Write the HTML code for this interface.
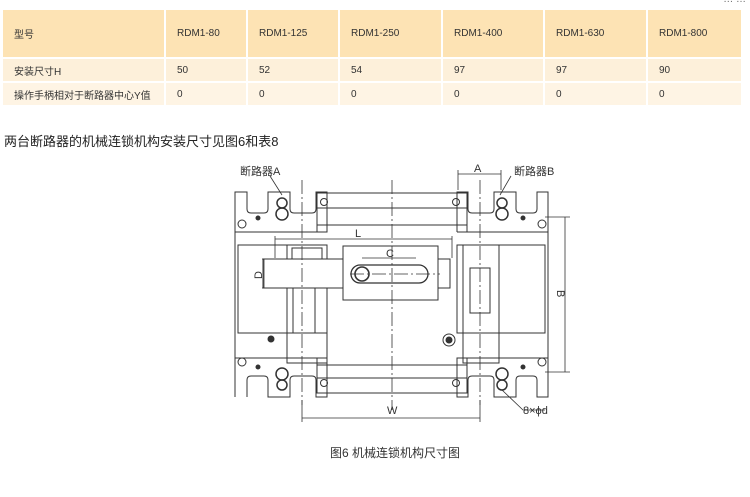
<!DOCTYPE html>
<html><head><meta charset="utf-8"><style>
html,body{margin:0;padding:0;background:#fff;width:750px;height:497px;overflow:hidden;font-family:"Liberation Sans","Noto Sans CJK SC",sans-serif;}
table{position:absolute;left:3px;top:10px;border-collapse:collapse;width:740px;font-size:10px;color:#333;}
td{border-right:2px solid #fff;padding:0 0 0 11px;}
tr.h td{background:#fde3b4;height:47px;}
tr.r2 td{background:#fdf0da;height:22px;border-top:2px solid #fff;}
tr.r3 td{background:#fef4e4;height:22px;border-top:2px solid #fff;}
.title{position:absolute;left:4px;top:131px;font-size:13px;color:#222;}
.cap{position:absolute;left:330px;top:444px;font-size:12px;color:#333;}
</style></head><body>
<div style="position:absolute;right:4px;top:-6px;font-size:10px;color:#666">… …</div>
<table>
<tr class="h"><td style="width:150px">型号</td><td style="width:69px">RDM1-80</td><td style="width:79px">RDM1-125</td><td style="width:90px">RDM1-250</td><td style="width:89px">RDM1-400</td><td style="width:90px">RDM1-630</td><td>RDM1-800</td></tr>
<tr class="r2"><td>安装尺寸H</td><td>50</td><td>52</td><td>54</td><td>97</td><td>97</td><td>90</td></tr>
<tr class="r3"><td>操作手柄相对于断路器中心Y值</td><td>0</td><td>0</td><td>0</td><td>0</td><td>0</td><td>0</td></tr>
</table>
<div class="title">两台断路器的机械连锁机构安装尺寸见图6和表8</div>
<svg width="750" height="497" style="position:absolute;left:0;top:0" fill="none" stroke="#333" stroke-width="1">
<g>
<path d="M235,397 V192 H247 V209 Q247,213 251,213 H264 Q268,213 268,209 V192 H290 V209 Q290,213 294,213 H312 Q316,213 316,209 V192 H327 V232 H235"/>
<path d="M235,192 V397 M235,358 H327 M327,358 V397 H316 V380 Q316,376 312,376 H294 Q290,376 290,380 V397 H268 V380 Q268,376 264,376 H251 Q247,376 247,380 V397"/>
<rect x="238" y="245" width="89" height="88"/>
<rect x="287" y="245" width="40" height="118"/>
<rect x="292" y="248" width="30" height="12"/>
<rect x="293" y="288" width="22" height="45"/>
<circle cx="282" cy="203" r="5" stroke-width="1.5"/><circle cx="282" cy="214" r="6" stroke-width="1.5"/>
<circle cx="282" cy="374" r="6" stroke-width="1.5"/><circle cx="282" cy="385" r="5" stroke-width="1.5"/>
<circle cx="242" cy="224" r="4"/><circle cx="242" cy="362" r="4"/>
<circle cx="271" cy="339" r="3" fill="#333"/>
<circle cx="258" cy="218" r="2" fill="#333"/><circle cx="258" cy="367" r="2" fill="#333"/>
</g>
<g>
<path d="M457,232 V192 H468 V209 Q468,213 472,213 H490 Q494,213 494,209 V192 H516 V209 Q516,213 520,213 H533 Q537,213 537,209 V192 H548 V397 H537 V380 Q537,376 533,376 H520 Q516,376 516,380 V397 H494 V380 Q494,376 490,376 H472 Q468,376 468,380 V397 H457 V358 H548 M457,232 H548"/>
<rect x="457" y="245" width="88" height="88"/>
<rect x="463" y="245" width="36" height="118"/>
<rect x="470" y="268" width="20" height="45"/>
<circle cx="502" cy="203" r="5" stroke-width="1.5"/><circle cx="502" cy="214" r="6" stroke-width="1.5"/>
<circle cx="502" cy="374" r="6" stroke-width="1.5"/><circle cx="502" cy="385" r="5" stroke-width="1.5"/>
<circle cx="542" cy="224" r="4"/><circle cx="542" cy="362" r="4"/>
<circle cx="449" cy="340" r="6"/><circle cx="449" cy="340" r="3" fill="#333"/>
<circle cx="523" cy="218" r="2" fill="#333"/><circle cx="523" cy="367" r="2" fill="#333"/>
</g>
<path d="M317,232 V193 H467 V232 M317,208 H467 M317,225 H467"/>
<path d="M317,358 V393 H467 V358 M317,378 H467 M317,365 H467"/>
<circle cx="324" cy="202" r="3.5"/><circle cx="456" cy="202" r="3.5"/>
<circle cx="324" cy="383" r="3.5"/><circle cx="456" cy="383" r="3.5"/>
<rect x="343" y="246" width="95" height="54" fill="#fff"/>
<rect x="263" y="259" width="80" height="29" fill="#fff"/>
<path d="M438,259 H450 V288 H438"/>
<path d="M360,265 H419 A9,9 0 0 1 419,283 H360 A9,9 0 0 1 360,265 Z" stroke-width="1.3"/>
<circle cx="362" cy="274" r="7" stroke-width="1.6"/>
<g stroke-dasharray="14,3,2,3" stroke-width="0.8">
<path d="M392,180 V410 M302,180 V405 M480,180 V405 M350,274 H440"/>
</g>
<g stroke-width="0.8">
<path d="M275,239 H452 M275,236 V258 M452,236 V258"/>
<path d="M362,258 H416"/>
<path d="M264,259 V288 M262,259 H268 M262,288 H268"/>
<path d="M458,174 H501 M458,170 V190 M501,170 V190"/>
<path d="M565,217 V372 M545,217 H570 M545,372 H570"/>
<path d="M302,418 H480 M302,400 V422 M480,400 V422"/>
<path d="M502,390 L523,410 H545"/>
<path d="M270,176 L282,195 M511,176 L500,195"/>
</g>
<g fill="#333" stroke="none" font-size="11">
<text x="240" y="175">断路器A</text>
<text x="514" y="175">断路器B</text>
<text x="474" y="172">A</text>
<text x="355" y="237">L</text>
<text x="386" y="257">C</text>
<text x="0" y="0" transform="translate(262,279) rotate(-90)">D</text>
<text x="0" y="0" transform="translate(557,290) rotate(90)">B</text>
<text x="387" y="414">W</text>
<text x="523" y="414">8×ϕd</text>
</g>
</svg>
<div class="cap">图6 机械连锁机构尺寸图</div>
</body></html>
